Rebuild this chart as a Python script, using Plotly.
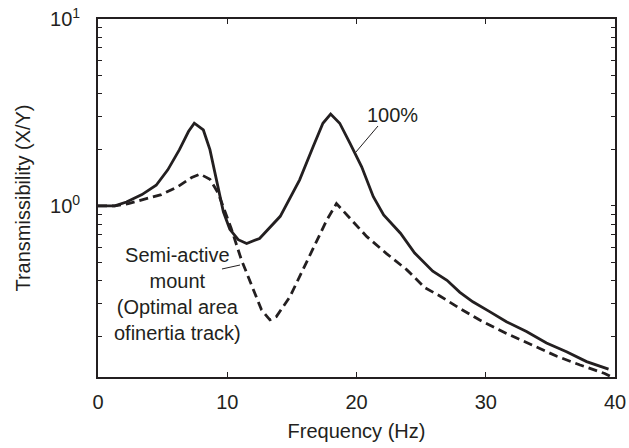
import plotly.graph_objects as go

# Frequency (Hz) and transmissibility
freq_full = [0, 1.3, 2.2, 3.4, 4.5, 5.4, 6.3, 7.0, 7.45, 8.15, 8.66, 9.3, 9.7, 10.2,
             10.85, 11.5, 12.5, 14.1, 15.6, 16.65, 17.4, 18.0, 18.7, 19.5, 20.4, 21.3,
             22.1, 23.4, 24.5, 25.9, 27.0, 28.0, 29.0, 30.3, 31.6, 33.15, 34.7, 36.25,
             37.8, 39.5]
trans_full = [1.0, 1.0, 1.05, 1.15, 1.29, 1.56, 2.0, 2.5, 2.77, 2.55, 2.0, 1.27, 0.93, 0.75,
              0.66, 0.63, 0.67, 0.88, 1.38, 2.08, 2.77, 3.1, 2.77, 2.16, 1.62, 1.12,
              0.895, 0.715, 0.56, 0.448, 0.40, 0.345, 0.307, 0.272, 0.24, 0.213, 0.185, 0.166,
              0.147, 0.134]

freq_semi = [0, 1.3, 2.35, 3.6, 4.9, 6.2, 7.25, 7.9, 8.66, 9.3, 10.3, 11.1, 11.9, 12.65,
             13.3, 13.8, 14.85, 16.1, 17.2, 17.7, 18.45, 19.5, 20.8, 22.3, 23.9, 25.3,
             26.45, 28.0, 29.5, 31.6, 33.7, 35.5, 37.3, 39.2, 39.6]
trans_semi = [1.0, 1.0, 1.03, 1.09, 1.15, 1.27, 1.42, 1.48, 1.39, 1.17, 0.76, 0.514, 0.37, 0.278,
              0.246, 0.256, 0.327, 0.494, 0.70, 0.84, 1.03, 0.86, 0.685, 0.558, 0.455, 0.365,
              0.33, 0.283, 0.246, 0.208, 0.179, 0.157, 0.141, 0.127, 0.123]

x_ticks = [0, 10, 20, 30, 40]
y_ticks = [0.2, 0.3, 0.4, 0.5, 0.6, 0.7, 0.8, 0.9, 1, 2, 3, 4, 5, 6, 7, 8, 9, 10]
y_tick_text = ["", "", "", "", "", "", "", "", "10<sup>0</sup>",
               "", "", "", "", "", "", "", "", "10<sup>1</sup>"]

ink = "#231f20"
font = dict(family="Liberation Sans, Arial, sans-serif", size=20, color=ink)

fig = go.Figure()
fig.add_trace(go.Scatter(x=freq_full, y=trans_full, mode="lines",
                         line=dict(color=ink, width=2.8), name="100%"))
fig.add_trace(go.Scatter(x=freq_semi, y=trans_semi, mode="lines",
                         line=dict(color=ink, width=2.8, dash="9px,5px"),
                         name="Semi-active mount"))

fig.update_layout(
    width=629, height=448,
    margin=dict(l=98, r=14, t=19, b=71, autoexpand=False),
    paper_bgcolor="white", plot_bgcolor="white",
    showlegend=False,
    font=font,
    xaxis=dict(
        range=[0, 40], tickmode="array", tickvals=x_ticks,
        ticks="inside", ticklen=5, tickwidth=1.2, tickcolor=ink,
        showline=True, linewidth=1.8, linecolor=ink, mirror="ticks",
        showgrid=False, zeroline=False, automargin=False,
        ticklabelstandoff=6,
        title=dict(text="Frequency (Hz)", standoff=12, font=font),
        tickfont=font,
    ),
    yaxis=dict(
        type="log", range=[-0.915, 1.0],
        tickmode="array", tickvals=y_ticks, ticktext=y_tick_text,
        ticks="inside", ticklen=4, tickwidth=1.1, tickcolor=ink,
        showline=True, linewidth=1.8, linecolor=ink, mirror="ticks",
        showgrid=False, zeroline=False, automargin=False,
        ticklabelstandoff=12,
        title=dict(text="Transmissibility (X/Y)", standoff=14, font=font),
        tickfont=font,
    ),
)

fig.add_annotation(xref="paper", yref="paper", x=0.569, y=0.732,
                   xanchor="center", yanchor="middle",
                   text="100%", showarrow=False, font=font)
fig.add_shape(type="line", xref="paper", yref="paper",
              x0=0.499, y0=0.6285, x1=0.5416, y1=0.7011,
              line=dict(color=ink, width=1))

fig.add_annotation(xref="paper", yref="paper", x=0.1547, y=0.2332,
                   xanchor="center", yanchor="middle",
                   text="Semi-active<br>mount<br>(Optimal area<br>ofinertia track)",
                   showarrow=False, font=font, align="center")
fig.add_shape(type="line", xref="paper", yref="paper",
              x0=0.2398, y0=0.3017, x1=0.2747, y1=0.3128,
              line=dict(color=ink, width=1))

fig.write_html("out.html", config={"displayModeBar": False},
               post_script="document.body.style.margin='0';document.body.style.overflow='hidden';")
